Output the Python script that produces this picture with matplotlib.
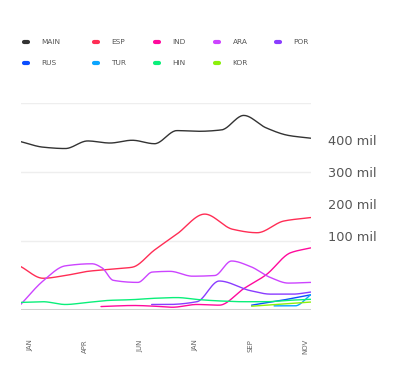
import numpy as np
import matplotlib
matplotlib.use("Agg")
import matplotlib.pyplot as plt
from matplotlib.lines import Line2D

# --- data (x in sample-index units, y in chart units) ---
MAIN_X = list(range(14))
MAIN_Y = [244, 236, 234, 245, 242, 246, 241, 260, 259, 261, 282, 264, 253, 249]

ESP_X = [0, 1, 2, 3, 4, 5, 6, 7, 8.25, 9.5, 10.6, 11.8, 13]
ESP_Y = [63, 46, 50, 56, 59, 62, 87, 110, 139, 117, 112, 129, 134]

IND_X = [3.6, 5.05, 6.3, 6.8, 7.9, 8.9, 10, 11, 12.1, 13]
IND_Y = [5, 6.5, 5, 4, 8, 7, 31, 51, 83, 90]

ARA_X = [0, 1, 2, 3.2, 3.65, 4.15, 5.25, 5.9, 6.7, 7.7, 8.7, 9.45, 10.3, 11.2, 12, 13]
ARA_Y = [8, 42, 64, 67, 61, 43, 40, 55, 56, 49, 50, 71, 63, 47, 39, 40]

POR_X = [5.87, 6.6, 7.9, 8.9, 10.3, 11.2, 12.2, 13]
POR_Y = [8, 8, 12, 42, 28, 23, 23, 26]

RUS_X = [10.35, 11.6, 13]
RUS_Y = [7, 13.5, 22]

TUR_X = [11.36, 12.3, 13]
TUR_Y = [6, 6, 22]

HIN_X = list(range(14))
HIN_Y = [11, 12, 8, 11, 14, 15, 17, 18, 15, 13, 12, 12, 14, 15.5]

KOR_X = [10.35, 11.7, 13]
KOR_Y = [5.5, 8.5, 11.5]

SERIES = [
    ("MAIN", MAIN_X, MAIN_Y, "#333333"),
    ("ESP", ESP_X, ESP_Y, "#ff2d55"),
    ("IND", IND_X, IND_Y, "#ff0a9c"),
    ("ARA", ARA_X, ARA_Y, "#cc44ff"),
    ("POR", POR_X, POR_Y, "#8a3cff"),
    ("RUS", RUS_X, RUS_Y, "#0a4dff"),
    ("TUR", TUR_X, TUR_Y, "#0aa5ff"),
    ("HIN", HIN_X, HIN_Y, "#0aef7a"),
    ("KOR", KOR_X, KOR_Y, "#8cf00a"),
]

TICK_LABELS = ["JAN", "APR", "JUN", "JAN", "SEP", "NOV"]
RIGHT_TICKS = [100, 200, 300, 400]
RIGHT_LABELS = ["100 mil", "200 mil", "300 mil", "400 mil"]


def monotone(x, y, n=300):
    # Fritsch-Carlson monotone cubic, only used to draw smooth curves
    x = np.asarray(x, float)
    y = np.asarray(y, float)
    h = np.diff(x)
    d = np.diff(y) / h
    m = np.zeros_like(y)
    m[0], m[-1] = d[0], d[-1]
    for i in range(1, len(y) - 1):
        if d[i - 1] * d[i] <= 0:
            m[i] = 0
        else:
            w1 = 2 * h[i] + h[i - 1]
            w2 = h[i] + 2 * h[i - 1]
            m[i] = (w1 + w2) / (w1 / d[i - 1] + w2 / d[i])
    xs = np.linspace(x[0], x[-1], n)
    k = np.clip(np.searchsorted(x, xs) - 1, 0, len(x) - 2)
    t = (xs - x[k]) / h[k]
    h00 = 2 * t**3 - 3 * t**2 + 1
    h10 = t**3 - 2 * t**2 + t
    h01 = -2 * t**3 + 3 * t**2
    h11 = t**3 - t**2
    ys = h00 * y[k] + h10 * h[k] * m[k] + h01 * y[k + 1] + h11 * h[k] * m[k + 1]
    return xs, ys


fig = plt.figure(figsize=(4, 3.84), dpi=100)
ax = fig.add_axes([20.7 / 400, 1 - 310 / 384, 290 / 400, 207 / 384])

for name, xs, ys, color in SERIES:
    sx, sy = monotone(xs, ys)
    ax.plot(sx, sy, color=color, lw=1.0, zorder=3, solid_capstyle="round")

ax.set_xlim(0, 13)
ax.set_ylim(0, 300)
for v in [100, 200, 300]:
    ax.axhline(v, color="#eeeeee", lw=1.0, zorder=1)
ax.axhline(0, color="#d0d0d0", lw=2.2, zorder=2)

for s in ax.spines.values():
    s.set_visible(False)
ax.set_yticks([])
ax.set_xticks(np.linspace(0.42, 12.75, len(TICK_LABELS)))
ax.set_xticklabels(TICK_LABELS, rotation=90, fontsize=5, color="#666666")
ax.tick_params(axis="x", length=0, pad=21)

ax2 = ax.twinx()
ax2.set_ylim(-131.25, 515.6)
ax2.set_yticks(RIGHT_TICKS)
ax2.set_yticklabels(RIGHT_LABELS, fontsize=9.3, color="#555555")
ax2.tick_params(axis="y", length=0, pad=12.5)
for s in ax2.spines.values():
    s.set_visible(False)

# legend, drawn by hand in pixel coordinates
col_x = [26, 96, 157, 217, 278]
row_y = [42.3, 63.3]
for i, (name, _, _, color) in enumerate(SERIES):
    r, c = divmod(i, 5)
    cx, cy = col_x[c], row_y[r]
    fig.add_artist(Line2D([(cx - 2.3) / 400, (cx + 2.3) / 400],
                          [1 - cy / 384, 1 - cy / 384],
                          transform=fig.transFigure, color=color, lw=3.0,
                          solid_capstyle="round"))
    fig.text((cx + 15.5) / 400, 1 - cy / 384, name, fontsize=5.3,
             color="#555555", va="center", ha="left")

fig.savefig("out.png", dpi=100)
